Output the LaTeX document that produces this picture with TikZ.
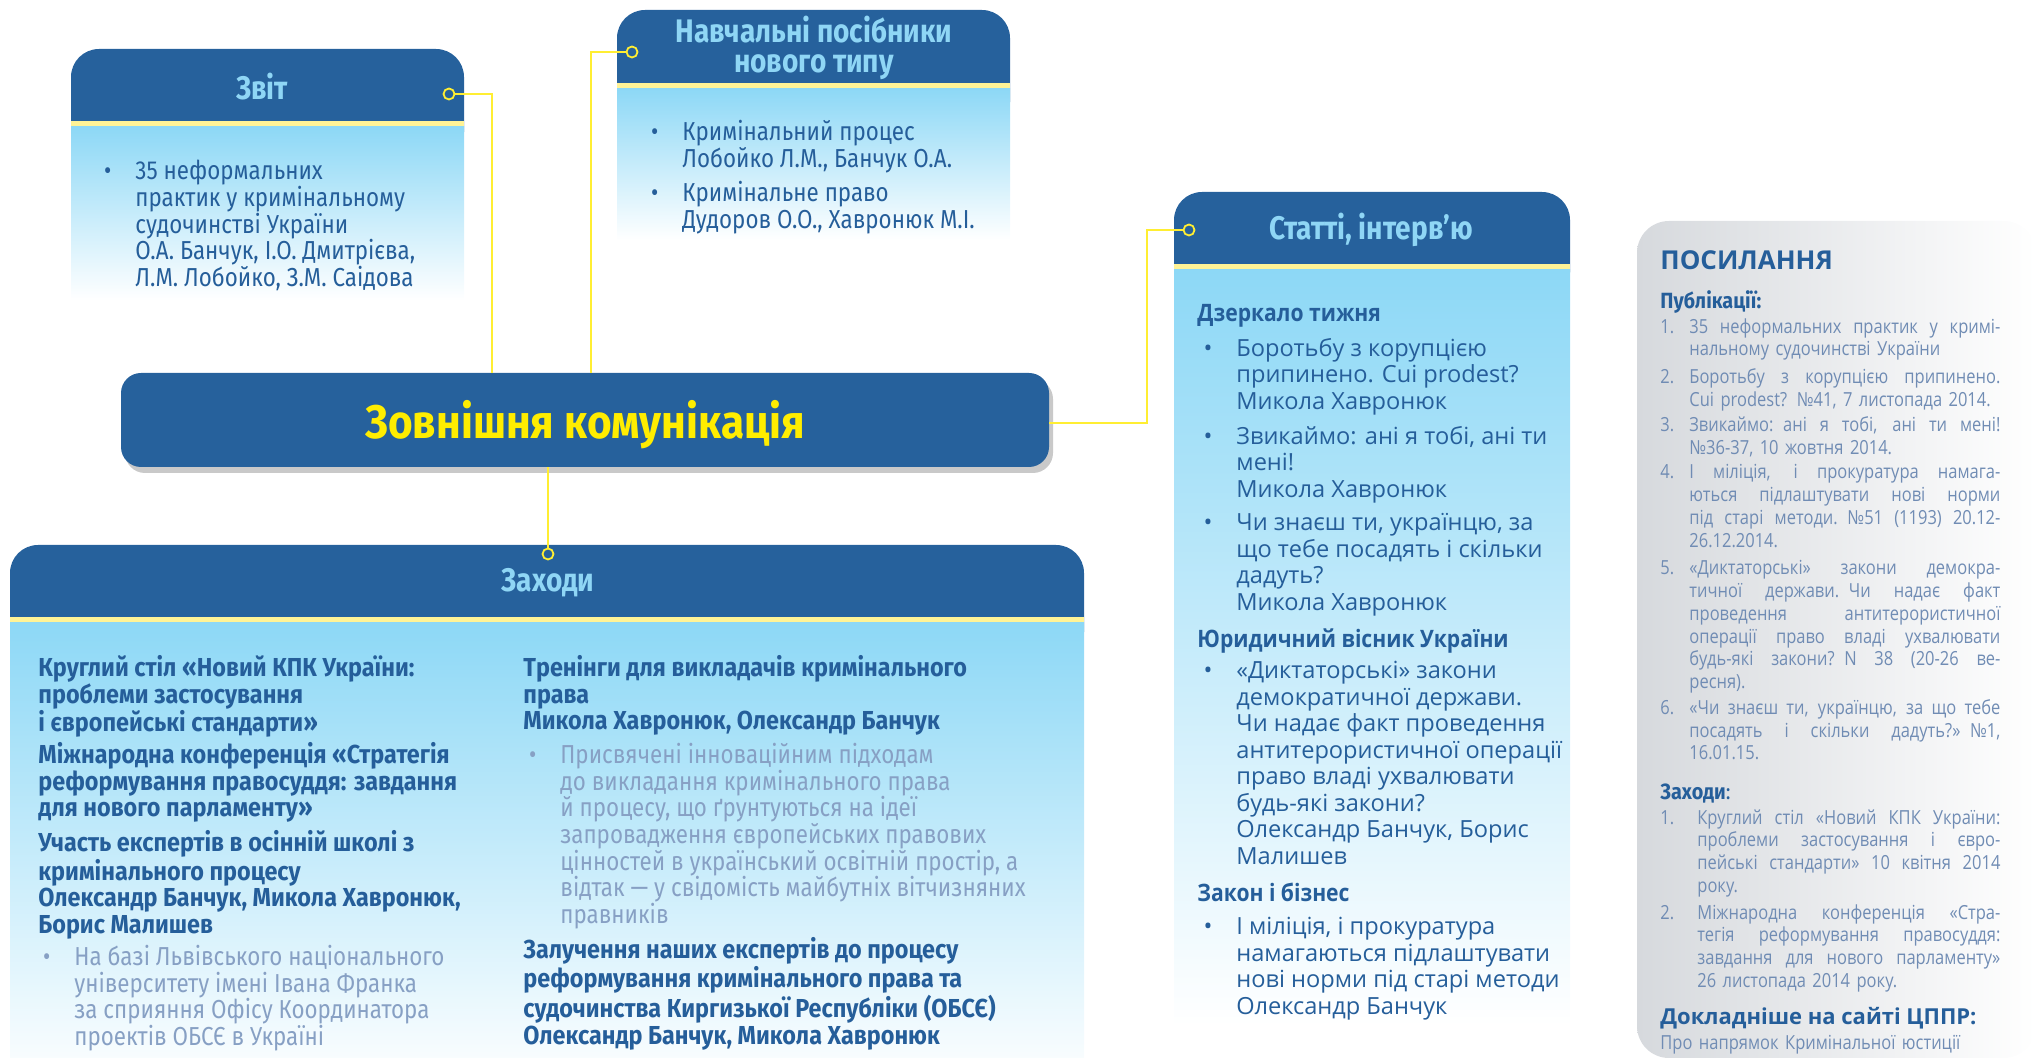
\documentclass[tikz,border=0pt]{standalone}
\usepackage{fontspec}
\setmainfont{Fira Sans}
\newfontfamily\condfont[FakeStretch=0.86]{Fira Sans}
\newfontfamily\condboldfont[FakeStretch=0.9]{Fira Sans}
\newfontfamily\listfont[FakeStretch=0.85]{Open Sans}
\newfontfamily\widefont{Open Sans}
\newfontfamily\wideboldfont[FakeStretch=0.88]{Open Sans}
\usetikzlibrary{shadows}

\definecolor{hdblue}{RGB}{38,97,156}
\definecolor{ttlblue}{RGB}{143,214,245}
\definecolor{txtblue}{RGB}{37,94,154}
\definecolor{paleblue}{RGB}{135,160,196}
\definecolor{skyblue}{RGB}{141,216,246}
\definecolor{stripe}{RGB}{255,243,150}
\definecolor{linkyel}{RGB}{255,238,50}
\definecolor{mainyel}{RGB}{255,237,0}
\definecolor{refgray}{RGB}{214,217,221}
\definecolor{reftxt}{RGB}{112,140,180}

\newcommand\bul{\llap{\textbullet\hspace{12pt}}}
\newcommand\num[2]{\llap{\makebox[#1][l]{#2}}}
% one justified line / one natural line of a reference entry
\newcommand\jl[1]{\hbox to \hsize{\spaceskip=\fontdimen2\font plus 1fil minus \fontdimen4\font\relax #1}}
\newcommand\jz[1]{\hbox{#1}}
\newcommand\refentry[1]{\vbox{#1}}

\tikzset{
  cardtitle/.style={font=\condfont\bfseries\fontsize{16.3}{15.2}\selectfont, text=ttlblue, align=center, inner sep=0},
  dot/.style={circle, draw=linkyel, fill=hdblue, line width=0.9pt, minimum size=5.5pt, inner sep=0},
  link/.style={linkyel, line width=1pt},
  mainbox/.style={rounded corners=10pt, fill=hdblue, minimum width=464pt, minimum height=47pt,
    text=mainyel, font=\condboldfont\bfseries\fontsize{23.5}{25}\selectfont,
    drop shadow={shadow xshift=2pt, shadow yshift=-3pt, opacity=0.3, fill=black!70}},
  zbold/.style={anchor=north west, inner sep=0, align=left, text=txtblue, font=\condboldfont\bfseries\fontsize{13}{13.3}\selectfont},
  zlight/.style={anchor=north west, inner sep=0, align=left, text=paleblue, font=\condfont\fontsize{13}{13.3}\selectfont},
  zvtext/.style={zlight, text=txtblue},
  stext/.style={anchor=north west, inner sep=0, align=left, text=txtblue, font=\widefont\fontsize{11.8}{13.25}\selectfont},
  shead/.style={stext, font=\wideboldfont\bfseries\fontsize{12}{13.25}\selectfont},
  reflist/.style={anchor=north west, inner sep=0, text width=#1, align=left, text=reftxt, font=\listfont\fontsize{9.7}{11.4}\selectfont},
  refhead/.style={anchor=north west, inner sep=0, text=txtblue, font=\condboldfont\bfseries\fontsize{11}{12}\selectfont}
}

\begin{document}
\begin{tikzpicture}[x=0.5pt,y=-0.5pt]
\useasboundingbox (0,0) rectangle (2036,1058);

% cards
\fill[hdblue, rounded corners=14pt] (71,49) rectangle (464,160);
\fill[stripe] (71,121) rectangle (464,127);
\shade[top color=skyblue, bottom color=white] (71,127) rectangle (464,300);

\fill[hdblue, rounded corners=14pt] (617,10) rectangle (1010,130);
\fill[stripe] (617,83) rectangle (1010,89);
\shade[top color=skyblue, bottom color=white] (617,89) rectangle (1010,240);

\fill[hdblue, rounded corners=14pt] (10,545) rectangle (1084,660);
\fill[stripe] (10,617) rectangle (1084,623);
\shade[top color=skyblue, bottom color=white!94!skyblue] (10,623) rectangle (1084,1058);

\fill[hdblue, rounded corners=14pt] (1174,192) rectangle (1570,300);
\fill[stripe] (1174,264) rectangle (1570,270);
\shade[top color=skyblue, bottom color=white] (1174,270) rectangle (1570,1026);

\shade[left color=refgray, right color=white, rounded corners=16pt] (1637,221) rectangle (2036,1058);

% titles
\node[cardtitle] (zvit) at (262,87) {Звіт};
\node[cardtitle] (nav) at (814,48) {Навчальні посібники\\нового типу};
\node[cardtitle] (zah) at (548,583) {Заходи};
\node[cardtitle] (stat) at (1371,230) {Статті, інтерв’ю};
\node[mainbox] (main) at (585,420) {\raisebox{-9.5pt}[0pt][0pt]{Зовнішня комунікація}};

% connectors
\node[dot] (zvitdot) at (449,94) {};
\node[dot] (navdot) at (632,52) {};
\node[dot] (zahdot) at (548,554) {};
\node[dot] (statdot) at (1189,230) {};
\draw[link] (zvitdot.east) -| ([xshift=-46.5pt]main.north);
\draw[link] (navdot.west) -| ([xshift=3pt]main.north);
\draw[link] ([xshift=-18.5pt]main.south) -- (zahdot.north);
\draw[link] (statdot.west) -| ([xshift=49pt,yshift=-1.5pt]main.east) -- ([yshift=-1.5pt]main.east);

% Звіт
\node[zvtext] (zv1) at (135,160) {\bul 35 неформальних\\практик у кримінальному\\судочинстві України\\О.А. Банчук, І.О. Дмитрієва,\\Л.М. Лобойко, З.М. Саідова};

% Навчальні посібники
\node[zvtext] (nav1) at (682,120) {\bul Кримінальний процес\\Лобойко Л.М., Банчук О.А.};
\node[zvtext] (nav2) at (682,181) {\bul Кримінальне право\\Дудоров О.О., Хавронюк М.І.};

% Заходи
\node[zbold] (zl1) at (38,655) {Круглий стіл «Новий КПК України:\\проблеми застосування\\і європейські стандарти»};
\node[zbold] (zl2) at (38,742) {Міжнародна конференція «Стратегія\\реформування правосуддя: завдання\\для нового парламенту»};
\node[zbold] (zl3) at (38,830) {Участь експертів в осінній школі з\\кримінального процесу\\Олександр Банчук, Микола Хавронюк,\\Борис Малишев};
\node[zlight] (zl4) at (74,945) {\bul На базі Львівського національного\\університету імені Івана Франка\\за сприяння Офісу Координатора\\проектів ОБСЄ в Україні};
\node[zbold] (zr1) at (523,655) {Тренінги для викладачів кримінального\\права\\Микола Хавронюк, Олександр Банчук};
\node[zlight] (zr2) at (560,743) {\bul Присвячені інноваційним підходам\\до викладання кримінального права\\й процесу, що ґрунтуються на ідеї\\запровадження європейських правових\\цінностей в український освітній простір, а\\відтак — у свідомість майбутніх вітчизняних\\правників};
\node[zbold] (zr3) at (523,937) {Залучення наших експертів до процесу\\реформування кримінального права та\\судочинства Киргизької Республіки (ОБСЄ)\\Олександр Банчук, Микола Хавронюк};

% Статті, інтерв'ю
\node[shead] (sh1) at (1197,304) {Дзеркало тижня};
\node[stext] (s1) at (1236,338) {\bul Боротьбу з корупцією\\припинено. Cui prodest?\\Микола Хавронюк};
\node[stext] (s2) at (1236,426) {\bul Звикаймо: ані я тобі, ані ти\\мені!\\Микола Хавронюк};
\node[stext] (s3) at (1236,513) {\bul Чи знаєш ти, українцю, за\\що тебе посадять і скільки\\дадуть?\\Микола Хавронюк};
\node[shead] (sh2) at (1197,628) {Юридичний вісник України};
\node[stext] (s4) at (1236,661) {\bul «Диктаторські» закони\\демократичної держави.\\Чи надає факт проведення\\антитерористичної операції\\право владі ухвалювати\\будь-які закони?\\Олександр Банчук, Борис\\Малишев};
\node[shead] (sh3) at (1197,883) {Закон і бізнес};
\node[stext] (s5) at (1236,917) {\bul І міліція, і прокуратура\\намагаються підлаштувати\\нові норми під старі методи\\Олександр Банчук};

% Посилання
\node[refhead, font=\widefont\bfseries\fontsize{13}{14}\selectfont] (pos) at (1660,250) {ПОСИЛАННЯ};
\node[refhead] (pub) at (1660,290) {Публікації:};
\node[reflist=155.5pt] (p1) at (1689,318) {\refentry{\jl{\num{14.5pt}{1.}35 неформальних практик у кримі-}\jz{нальному судочинстві України}}};
\node[reflist=155.5pt] (p2) at (1689,368) {\refentry{\jl{\num{14.5pt}{2.}Боротьбу з корупцією припинено.}\jz{Cui prodest? №41, 7 листопада 2014.}}};
\node[reflist=155.5pt] (p3) at (1689,416) {\refentry{\jl{\num{14.5pt}{3.}Звикаймо: ані я тобі, ані ти мені!}\jz{№36-37, 10 жовтня 2014.}}};
\node[reflist=155.5pt] (p4) at (1689,464) {\refentry{\jl{\num{14.5pt}{4.}І міліція, і прокуратура намага-}\jl{ються підлаштувати нові норми}\jl{під старі методи. №51 (1193) 20.12-}\jz{26.12.2014.}}};
\node[reflist=155.5pt] (p5) at (1689,560) {\refentry{\jl{\num{14.5pt}{5.}«Диктаторські» закони демокра-}\jl{тичної держави. Чи надає факт}\jl{проведення антитерористичної}\jl{операції право владі ухвалювати}\jl{будь-які закони? N 38 (20-26 ве-}\jz{ресня).}}};
\node[reflist=155.5pt] (p6) at (1689,699) {\refentry{\jl{\num{14.5pt}{6.}«Чи знаєш ти, українцю, за що тебе}\jl{посадять і скільки дадуть?» №1,}\jz{16.01.15.}}};
\node[refhead] (zah2) at (1660,783) {Заходи\mdseries:};
\node[reflist=151.5pt] (z1) at (1697,809) {\refentry{\jl{\num{18.5pt}{1.}Круглий стіл «Новий КПК України:}\jl{проблеми застосування і євро-}\jl{пейські стандарти» 10 квітня 2014}\jz{року.}}};
\node[reflist=151.5pt] (z2) at (1697,904) {\refentry{\jl{\num{18.5pt}{2.}Міжнародна конференція «Стра-}\jl{тегія реформування правосуддя:}\jl{завдання для нового парламенту»}\jz{26 листопада 2014 року.}}};
\node[refhead, font=\widefont\bfseries\fontsize{11}{12}\selectfont] (more) at (1660,1007) {Докладніше на сайті ЦППР:};
\node[reflist=170pt] (link) at (1660,1035) {\refentry{\jz{Про напрямок Кримінальної юстиції}}};
\end{tikzpicture}
\end{document}
